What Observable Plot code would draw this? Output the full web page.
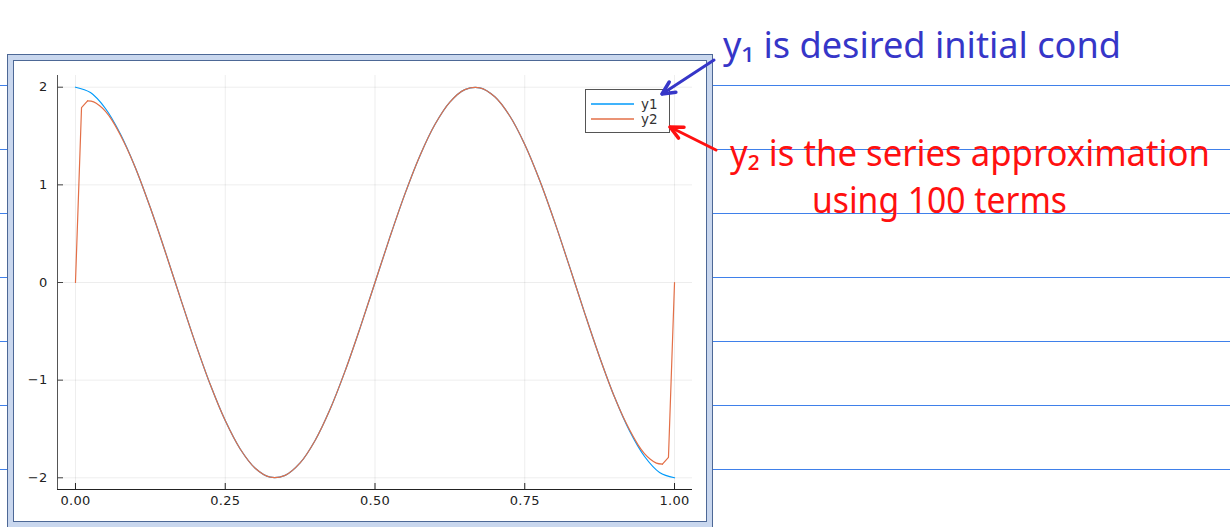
<!DOCTYPE html>
<html>
<head>
<meta charset="utf-8">
<script src="https://cdn.jsdelivr.net/npm/d3@7"></script>
<script src="https://cdn.jsdelivr.net/npm/@observablehq/plot@0.6"></script>
<style>
  html, body { margin: 0; padding: 0; background: #fff; }
  #page { position: relative; width: 1230px; height: 527px; overflow: hidden; background: #fff; }
  #paper { position: absolute; left: 0; top: 0; }
  #outer { position: absolute; left: 7px; top: 54px; width: 706px; height: 480px;
           border: 1px solid #4d6896; background: #c9d7ee; box-sizing: border-box; }
  #inner { position: absolute; left: 13px; top: 60px; width: 694px; height: 462px;
           border: 1px solid #4d6896; background: #fff; box-sizing: border-box; }
  #chart { position: absolute; left: 14px; top: 61px; }
  #chart svg text { font-size: 13px !important; letter-spacing: 0.3px; font-family: "DejaVu Sans", sans-serif !important; }
  #legend { position: absolute; left: 585px; top: 89px; }
  #notes { position: absolute; left: 0; top: 0; }
</style>
</head>
<body>
<div id="page">
  <svg id="paper" width="1230" height="527"></svg>
  <div id="outer"></div>
  <div id="inner"></div>
  <div id="chart"></div>
  <svg id="legend" width="86" height="45"></svg>
  <svg id="notes" width="1230" height="527"></svg>
</div>
<script>
// ---- data ----
const seriesNames = ["y1", "y2"];
const seriesColors = ["#009AFA", "#E36F47"];

const xTicks = [0, 0.25, 0.5, 0.75, 1];
const yTicks = [-2, -1, 0, 1, 2];

// y1: desired initial condition
const x1 = [0, 0.025, 0.05, 0.075, 0.1, 0.125, 0.15, 0.175, 0.2, 0.225, 0.25, 0.275, 0.3, 0.325, 0.35, 0.375, 0.4, 0.425, 0.45, 0.475,
            0.5, 0.525, 0.55, 0.575, 0.6, 0.625, 0.65, 0.675, 0.7, 0.725, 0.75, 0.775, 0.8, 0.825, 0.85, 0.875, 0.9, 0.925, 0.95, 0.975, 1];
const y1 = [2.000, 1.945, 1.782, 1.521, 1.176, 0.765, 0.313, -0.157, -0.618, -1.045, -1.414, -1.705, -1.902, -1.994, -1.975, -1.848, -1.618, -1.299, -0.908, -0.467,
            0.000, 0.467, 0.908, 1.299, 1.618, 1.848, 1.975, 1.994, 1.902, 1.705, 1.414, 1.045, 0.618, 0.157, -0.313, -0.765, -1.176, -1.521, -1.782, -1.945, -2.000];

// y2: series approximation (100 terms)
const x2 = [0, 0.0101, 0.0202, 0.0303, 0.0404, 0.0505, 0.0606, 0.0808, 0.1, 0.125, 0.15, 0.175, 0.2, 0.225, 0.25, 0.275, 0.3, 0.325, 0.35, 0.375,
            0.4, 0.425, 0.45, 0.475, 0.5, 0.525, 0.55, 0.575, 0.6, 0.625, 0.65, 0.675, 0.7, 0.725, 0.75, 0.775, 0.8, 0.825, 0.85, 0.875,
            0.9, 0.9192, 0.9394, 0.9495, 0.9596, 0.9697, 0.9798, 0.9899, 1];
const y2 = [0.000, 1.79, 1.86, 1.85, 1.81, 1.75, 1.665, 1.44, 1.176, 0.765, 0.313, -0.157, -0.618, -1.045, -1.414, -1.705, -1.902, -1.994, -1.975, -1.848,
            -1.618, -1.299, -0.908, -0.467, 0.000, 0.467, 0.908, 1.299, 1.618, 1.848, 1.975, 1.994, 1.902, 1.705, 1.414, 1.045, 0.618, 0.157, -0.313, -0.765,
            -1.176, -1.44, -1.665, -1.75, -1.81, -1.85, -1.86, -1.79, 0.000];

// ---- build tables ----
const d1 = x1.map((x, i) => ({x, y: y1[i]}));
const d2 = x2.map((x, i) => ({x, y: y2[i], i}));
const n2 = d2.length;
const d2mid = d2.filter(d => d.i >= 2 && d.i <= n2 - 3);
const d2ends = d2.filter(d => d.i <= 2 || d.i >= n2 - 3).map(d => ({...d, seg: d.i <= 2 ? "a" : "b"}));

const xDomain = [-0.03, 1.03];
const yDomain = [-2.12, 2.12];
const tickLenX = 6 / 599;   // ≈6px in data units
const tickLenY = 6 / 97.6;

// ruled notebook paper
const paper = d3.select("#paper");
[85, 149, 213, 277, 341, 405, 469].forEach(y => {
  paper.append("line").attr("x1", 0).attr("x2", 1230).attr("y1", y + 0.5).attr("y2", y + 0.5)
    .attr("stroke", "#3f80ea").attr("stroke-width", 1);
});

const chart = Plot.plot({
  width: 692,
  height: 460,
  marginLeft: 43,
  marginRight: 14,
  marginTop: 14,
  marginBottom: 32,
  style: {fontFamily: "DejaVu Sans, sans-serif", fontSize: "13px", color: "#333", background: "transparent"},
  x: {domain: xDomain, label: null},
  y: {domain: yDomain, label: null},
  marks: [
    Plot.gridX(xTicks, {stroke: "#000", strokeOpacity: 0.07}),
    Plot.gridY(yTicks, {stroke: "#000", strokeOpacity: 0.07}),
    Plot.axisX(xTicks, {tickSize: 0, tickPadding: 6, fontSize: 13, tickFormat: d3.format(".2f"), fill: "#222"}),
    Plot.axisY(yTicks, {tickSize: 0, tickPadding: 10, fontSize: 13, tickFormat: d3.format("d"), fill: "#222"}),
    Plot.ruleX([xDomain[0]], {stroke: "#555"}),
    Plot.ruleY([yDomain[0]], {stroke: "#222"}),
    Plot.ruleX(xTicks, {x: d => d, y1: yDomain[0], y2: yDomain[0] + tickLenY, stroke: "#222"}),
    Plot.ruleY(yTicks, {y: d => d, x1: xDomain[0], x2: xDomain[0] + tickLenX, stroke: "#444"}),
    Plot.line(d1, {x: "x", y: "y", stroke: seriesColors[0], strokeWidth: 1.2, curve: "catmull-rom"}),
    Plot.line(d2mid, {x: "x", y: "y", stroke: seriesColors[1], strokeWidth: 1.2, curve: "catmull-rom"}),
    Plot.line(d2ends, {x: "x", y: "y", z: "seg", stroke: seriesColors[1], strokeWidth: 1.2, curve: "linear"})
  ]
});
document.getElementById("chart").appendChild(chart);

// legend
const lg = d3.select("#legend");
lg.append("rect").attr("x", 0.5).attr("y", 0.5).attr("width", 84).attr("height", 43)
  .attr("fill", "#fff").attr("stroke", "#555");
seriesNames.forEach((name, i) => {
  const yy = 15 + i * 15;
  lg.append("line").attr("x1", 6).attr("x2", 49).attr("y1", yy).attr("y2", yy)
    .attr("stroke", seriesColors[i]).attr("stroke-width", 1.4);
  lg.append("text").attr("x", 56).attr("y", yy + 4.5).attr("fill", "#333")
    .attr("font-family", "DejaVu Sans, sans-serif").attr("font-size", 13.5).text(name);
});

// handwritten notes
const notes = d3.select("#notes");
const noteFont = "Noto Sans, DejaVu Sans, sans-serif";
const noteLines = [
  {text: "y\u2081 is desired initial cond", color: "#3636c8", x: 723, y: 58, len: 398, size: 36},
  {text: "y\u2082 is the series approximation", color: "#ff1010", x: 730, y: 166, len: 480, size: 36},
  {text: "using 100 terms", color: "#ff1010", x: 812, y: 213, len: 255, size: 36}
];
noteLines.forEach(n => {
  notes.append("text").attr("x", n.x).attr("y", n.y).attr("fill", n.color)
    .attr("font-family", noteFont).attr("font-size", n.size)
    .attr("textLength", n.len).attr("lengthAdjust", "spacingAndGlyphs")
    .text(n.text);
});
// arrows
function arrow(x0, y0, x1, y1, color) {
  const a = Math.atan2(y1 - y0, x1 - x0), h = 14, w = 0.45;
  notes.append("line").attr("x1", x0).attr("y1", y0).attr("x2", x1).attr("y2", y1)
    .attr("stroke", color).attr("stroke-width", 3).attr("stroke-linecap", "round");
  notes.append("path")
    .attr("d", `M${x1 - h * Math.cos(a - w)},${y1 - h * Math.sin(a - w)}L${x1},${y1}L${x1 - h * Math.cos(a + w)},${y1 - h * Math.sin(a + w)}`)
    .attr("fill", "none").attr("stroke", color).attr("stroke-width", 3.5).attr("stroke-linecap", "round").attr("stroke-linejoin", "round");
}
arrow(714, 60, 662, 94, "#3636c8");
arrow(716, 150, 670, 127, "#ff1010");
</script>
</body>
</html>
